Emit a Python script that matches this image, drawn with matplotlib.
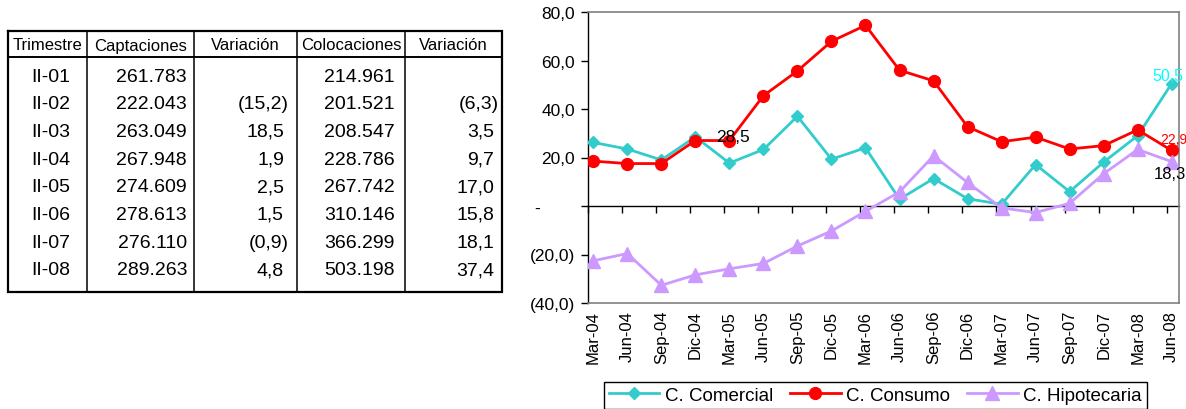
import matplotlib
matplotlib.use("Agg")
import matplotlib.pyplot as plt
from matplotlib.ticker import FixedLocator, FuncFormatter

plt.rcParams['font.family'] = ['Liberation Sans', 'DejaVu Sans']

# tabla
trimestres = ["II-01", "II-02", "II-03", "II-04", "II-05", "II-06", "II-07", "II-08"]
captaciones = [261783, 222043, 263049, 267948, 274609, 278613, 276110, 289263]
var_captaciones = [None, -15.2, 18.5, 1.9, 2.5, 1.5, -0.9, 4.8]
colocaciones = [214961, 201521, 208547, 228786, 267742, 310146, 366299, 503198]
var_colocaciones = [None, -6.3, 3.5, 9.7, 17.0, 15.8, 18.1, 37.4]
encabezados = ["Trimestre", "Captaciones", "Variación", "Colocaciones", "Variación"]

# grafico
periodos = ["Mar-04", "Jun-04", "Sep-04", "Dic-04", "Mar-05", "Jun-05", "Sep-05", "Dic-05", "Mar-06",
            "Jun-06", "Sep-06", "Dic-06", "Mar-07", "Jun-07", "Sep-07", "Dic-07", "Mar-08", "Jun-08"]
comercial = [26.2, 23.5, 19.0, 28.5, 17.7, 23.3, 37.0, 19.3, 24.0,
             2.8, 11.3, 3.0, 0.7, 17.1, 5.9, 18.1, 29.0, 50.5]
consumo = [18.5, 17.5, 17.5, 27.0, 27.0, 45.5, 55.7, 67.9, 74.5,
           56.0, 51.6, 32.7, 26.5, 28.4, 23.5, 24.9, 31.4, 22.9]
hipotecaria = [-22.6, -19.6, -32.7, -28.4, -25.9, -23.7, -16.5, -10.3, -2.2,
               5.8, 20.7, 9.7, -0.8, -2.7, 1.1, 13.3, 23.3, 18.3]


def miles(v):
    return f"{v:,}".replace(",", ".")


def variacion(v):
    if v is None:
        return ""
    s = f"{abs(v):.1f}".replace(".", ",")
    return f"({s})" if v < 0 else s


W, H = 1186, 410
fig = plt.figure(figsize=(W / 100, H / 100), dpi=100)

# ---- tabla (coordenadas en pixeles) ----
x_cols = [8, 87, 194, 297, 405, 502]
y_top, y_head, y_bot = 32, 58, 293
tab = fig.add_axes([x_cols[0] / W, 1 - y_bot / H, (x_cols[-1] - x_cols[0]) / W, (y_bot - y_top) / H])
tab.set_xlim(x_cols[0], x_cols[-1])
tab.set_ylim(y_bot, y_top)
tab.axis("off")

tab.plot([x_cols[0], x_cols[-1], x_cols[-1], x_cols[0], x_cols[0]],
         [y_top, y_top, y_bot, y_bot, y_top], color="black", lw=1.6, clip_on=False,
         solid_joinstyle="miter")
tab.plot([x_cols[0], x_cols[-1]], [y_head, y_head], color="black", lw=1.4, clip_on=False)
for xc in x_cols[1:-1]:
    tab.plot([xc, xc], [y_top, y_bot], color="black", lw=1.1, clip_on=False)

for i, h in enumerate(encabezados):
    tab.text((x_cols[i] + x_cols[i + 1]) / 2, (y_top + y_head) / 2 + 1, h,
             ha="center", va="center", fontsize=12)

pads = [7, 8, 10, 3]
paren = 5
for r in range(len(trimestres)):
    yc = 77 + r * 27.7
    tab.text((x_cols[0] + x_cols[1]) / 2 + 3, yc, trimestres[r], ha="center", va="center", fontsize=14)
    cols = [(miles(captaciones[r]), None), (variacion(var_captaciones[r]), var_captaciones[r]),
            (miles(colocaciones[r]), None), (variacion(var_colocaciones[r]), var_colocaciones[r])]
    for c, (txt, val) in enumerate(cols):
        xr = x_cols[c + 2] - pads[c]
        if val is not None and val >= 0:
            xr -= paren
        tab.text(xr, yc, txt, ha="right", va="center", fontsize=14)

# ---- grafico ----
x0, x1, yt, yb = 587.7, 1178.5, 13, 304
ax = fig.add_axes([x0 / W, 1 - yb / H, (x1 - x0) / W, (yb - yt) / H])
xs = list(range(len(periodos)))

ax.plot(xs, comercial, color="#33CCCC", lw=2, marker="D", ms=6, mec="#33CCCC", label="C. Comercial", zorder=3)
ax.plot(xs, consumo, color="#FF0000", lw=2, marker="o", ms=8.5, mec="#FF0000", label="C. Consumo", zorder=3)
ax.plot(xs, hipotecaria, color="#CC99FF", lw=2, marker="^", ms=9.5, mec="#CC99FF", label="C. Hipotecaria", zorder=3)

ax.set_xlim(-0.165, len(periodos) - 1 + 0.2)
ax.set_ylim(-40, 80)
ax.set_xticks(xs)
ax.set_xticklabels(periodos, rotation=90, fontsize=12)
ax.tick_params(axis="x", length=0, pad=5)
ax.set_yticks(range(-40, 81, 20))


def yfmt(v, _):
    if v == 0:
        return "-       "
    s = f"{abs(v):.1f}".replace(".", ",")
    return f"({s})" if v < 0 else s


ax.yaxis.set_major_formatter(FuncFormatter(yfmt))
ax.tick_params(axis="y", length=5, width=1, direction="out", labelsize=12.5, pad=4)

for s in ["top", "right", "bottom"]:
    ax.spines[s].set_color("#808080")
    ax.spines[s].set_linewidth(1.2)
ax.spines["left"].set_color("black")
ax.spines["left"].set_linewidth(1)

# linea de cero con marcas
cero = ax.secondary_xaxis(40 / 120)
cero.xaxis.set_major_locator(FixedLocator([i - 0.15 for i in xs]))
cero.tick_params(axis="x", length=5, width=1, direction="out", labelbottom=False, labeltop=False)
cero.spines["bottom"].set_color("black")
cero.spines["bottom"].set_linewidth(1)

# etiquetas de datos
ax.annotate(variacion(comercial[3]), (3, comercial[3]), xytext=(38, 0), textcoords="offset pixels",
            ha="center", va="center", fontsize=12.5, color="black", annotation_clip=False)
ax.annotate(variacion(comercial[-1]), (xs[-1], comercial[-1]), xytext=(-4, 8), textcoords="offset pixels",
            ha="center", va="center", fontsize=11.5, color="#00FFFF", annotation_clip=False)
ax.annotate(variacion(consumo[-1]), (xs[-1], consumo[-1]), xytext=(2, 11), textcoords="offset pixels",
            ha="center", va="center", fontsize=10, color="#FF0000", annotation_clip=False)
ax.annotate(variacion(hipotecaria[-1]), (xs[-1], hipotecaria[-1]), xytext=(-2, -12), textcoords="offset pixels",
            ha="center", va="center", fontsize=12, color="black", annotation_clip=False)

leg = fig.legend(loc="upper left", bbox_to_anchor=(604 / W, 1 - 383 / H), ncol=3, fontsize=13.5,
                 frameon=True, fancybox=False, edgecolor="black", framealpha=1,
                 handlelength=2.7, handletextpad=0.3, columnspacing=0.9, borderpad=0.25,
                 borderaxespad=0)
leg.get_frame().set_linewidth(1)

fig.savefig("out.png", dpi=100)
